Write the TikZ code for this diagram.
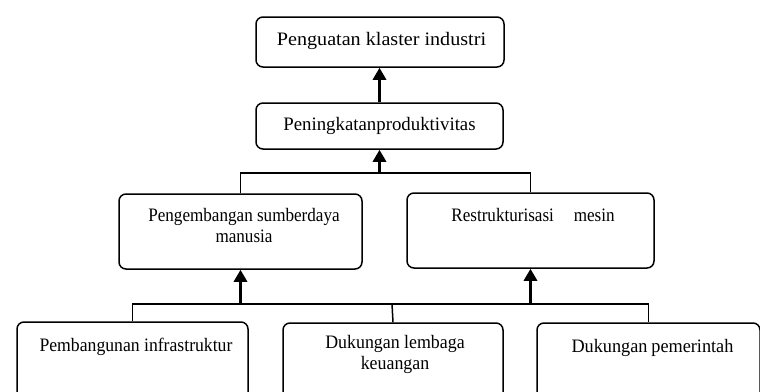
\documentclass[tikz,border=0pt]{standalone}
\usepackage{fontspec}
\setmainfont{Liberation Serif}
\usetikzlibrary{arrows.meta}
\newcommand\hsq[2]{\scalebox{#1}[1]{#2}}
\begin{document}
\begin{tikzpicture}[x=1pt,y=-1pt,
  box/.style={draw, line width=1.5pt, rounded corners=7pt, inner sep=0pt},
  lbl/.style={font=\fontsize{19}{20.5}\selectfont, inner sep=0pt, anchor=base},
  conn/.style={line width=1.5pt},
  arr/.style={line width=3.5pt, -{Triangle[length=12pt,width=13pt]}},
]
\useasboundingbox (0,0) rectangle (760,391);
\clip (0,0) rectangle (760,391);
% boxes
\node[box, minimum width=248pt, minimum height=50pt] (top) at (380,42) {};
\node[box, minimum width=247pt, minimum height=46pt] (prod) at (379.5,126) {};
\node[box, minimum width=243pt, minimum height=75pt] (sdm) at (240.5,231.5) {};
\node[box, minimum width=247pt, minimum height=75pt] (mesin) at (530.5,230.5) {};
\node[box, minimum width=231pt, minimum height=90pt] (infra) at (132.5,367) {};
\node[box, minimum width=220pt, minimum height=90pt] (keu) at (393,368) {};
\node[box, minimum width=223pt, minimum height=90pt] (pem) at (648.5,368) {};
% labels
\node[lbl] (ttop) at (381.5,45) {\hsq{1.06}{Penguatan klaster industri}};
\node[lbl] (tprod) at (379.5,130) {\hsq{0.99}{Peningkatanproduktivitas}};
\node[lbl] (tsdm) at (244,221.5) {\hsq{0.9}{\begin{tabular}[t]{@{}c@{}}Pengembangan sumberdaya\\manusia\end{tabular}}};
\node[lbl] (tmesin) at (533,221) {\hsq{0.9}{Restrukturisasi\hspace{22pt}mesin}};
\node[lbl] (tinfra) at (136,351.5) {\hsq{0.93}{Pembangunan infrastruktur}};
\node[lbl] (tkeu) at (395,348.5) {\hsq{0.94}{\begin{tabular}[t]{@{}c@{}}Dukungan lembaga\\keuangan\end{tabular}}};
\node[lbl] (tpem) at (652.5,352) {\hsq{0.96}{Dukungan\hspace{4pt}pemerintah}};
% connectors
\coordinate (j1) at (379.5,173);
\coordinate (j2) at (392,304);
\draw[arr] (prod.north) -- (prod.north |- top.south);
\draw[conn] (sdm.north) |- (j1) -| (mesin.north);
\draw[arr] (j1) -- (prod.south);
\draw[conn] (infra.north) |- (j2) -| (pem.north);
\draw[conn] (j2) -- (keu.north);
\draw[arr] (sdm.south |- j2) -- (sdm.south);
\draw[arr] (mesin.south |- j2) -- (mesin.south);
\end{tikzpicture}
\end{document}
